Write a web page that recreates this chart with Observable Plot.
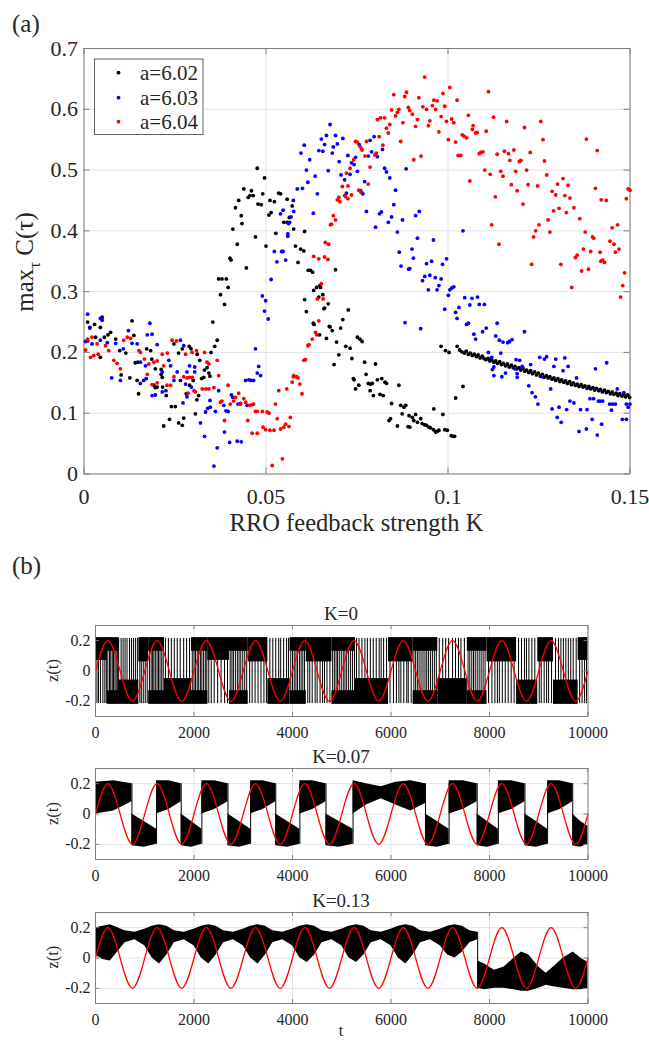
<!DOCTYPE html>
<html><head><meta charset="utf-8">
<script src="https://cdn.jsdelivr.net/npm/d3@7"></script>
<script src="https://cdn.jsdelivr.net/npm/@observablehq/plot@0.6"></script>
<style>
body{margin:0;background:#fff;}
#root{position:relative;width:649px;height:1042px;overflow:hidden;font-family:"Liberation Serif",serif;}
#root > svg{position:absolute;left:0;}
#root svg text{font-family:"Liberation Serif",serif !important;}
</style></head><body><div id="root"></div>
<script>
// ---------- Panel (a) data ----------
const kTicksA = [0, 0.05, 0.1, 0.15];
const cTicksA = [0, 0.1, 0.2, 0.3, 0.4, 0.5, 0.6, 0.7];
const seriesNames = ["a=6.02", "a=6.03", "a=6.04"];
const seriesColors = ["#000000", "#0000ff", "#ff0000"];

const a602 = [[0.001,0.25],[0.0016,0.241],[0.001,0.219],[0.0029,0.246],[0.0032,0.225],[0.0045,0.241],[0.0045,0.192],[0.005,0.258],[0.0056,0.225],[0.0066,0.229],[0.0073,0.233],[0.0087,0.222],[0.0098,0.203],[0.0102,0.163],[0.0115,0.199],[0.0126,0.158],[0.0132,0.252],[0.0137,0.228],[0.0141,0.183],[0.0146,0.154],[0.0148,0.184],[0.015,0.132],[0.0172,0.206],[0.0183,0.203],[0.0186,0.189],[0.0192,0.146],[0.0196,0.173],[0.0196,0.142],[0.0201,0.143],[0.0212,0.172],[0.0212,0.164],[0.0215,0.159],[0.0216,0.143],[0.0219,0.079],[0.0226,0.129],[0.0235,0.09],[0.024,0.111],[0.0247,0.214],[0.0251,0.111],[0.026,0.199],[0.026,0.084],[0.0265,0.154],[0.027,0.206],[0.027,0.08],[0.0274,0.092],[0.0281,0.132],[0.0289,0.21],[0.029,0.146],[0.0294,0.206],[0.03,0.154],[0.0306,0.099],[0.031,0.122],[0.0311,0.197],[0.0315,0.129],[0.0318,0.187],[0.0323,0.157],[0.0329,0.159],[0.0331,0.171],[0.0338,0.175],[0.0343,0.166],[0.0346,0.161],[0.0349,0.2],
[0.0354,0.25],[0.0359,0.21],[0.0366,0.22],[0.037,0.321],[0.0375,0.295],[0.0379,0.321],[0.0386,0.279],[0.0391,0.321],[0.0396,0.307],[0.0401,0.355],[0.0404,0.352],[0.0409,0.403],[0.0416,0.438],[0.0421,0.378],[0.0425,0.45],[0.0432,0.425],[0.0434,0.412],[0.0439,0.469],[0.0446,0.339],[0.0451,0.455],[0.0456,0.458],[0.046,0.466],[0.0465,0.458],[0.0471,0.39],[0.0476,0.503],[0.0478,0.444],[0.0487,0.443],[0.0491,0.461],[0.0496,0.487],[0.05,0.375],[0.0508,0.426],[0.0511,0.45],[0.0514,0.43],[0.0523,0.448],[0.0527,0.396],[0.0535,0.462],[0.054,0.461],[0.0549,0.414],[0.0558,0.452],[0.0558,0.414],[0.0564,0.422],[0.0572,0.441],[0.0576,0.403],[0.0581,0.375],[0.0588,0.348],[0.0595,0.37],[0.0604,0.367],[0.0606,0.399],[0.0606,0.287],[0.0611,0.267],[0.0616,0.335],[0.0622,0.335],[0.0628,0.332],[0.063,0.248],[0.0631,0.302],[0.0632,0.246],[0.0639,0.307],[0.0645,0.291],[0.0647,0.229],[0.0648,0.31],[0.065,0.307],[0.0656,0.295],[0.0659,0.272],[0.0661,0.273],[0.0666,0.223],[0.0671,0.28],[0.0674,0.243],[0.0676,0.242],[0.0682,0.236],[0.0687,0.18],[0.0691,0.336],[0.0694,0.217],[0.07,0.196],[0.0705,0.24],[0.0711,0.254],[0.0719,0.21],[0.0726,0.27],[0.0731,0.207],[0.0736,0.19],[0.074,0.157],[0.0742,0.155],[0.0746,0.14],[0.0751,0.225],[0.0755,0.146],[0.0758,0.222],[0.0764,0.218],[0.0771,0.184],[0.0775,0.164],[0.0781,0.149],[0.0786,0.137],[0.0787,0.148],[0.0792,0.149],[0.0795,0.129],[0.0801,0.181],[0.0806,0.155],[0.0813,0.131],[0.0818,0.157],[0.0822,0.129],[0.0827,0.151],[0.0831,0.149],[0.0838,0.088],[0.0842,0.091],[0.0845,0.116],[0.0861,0.079],[0.0865,0.146],[0.087,0.113],[0.0874,0.099],[0.0879,0.11],[0.0884,0.113],[0.089,0.078],[0.0893,0.096],[0.0895,0.077],[0.0902,0.093],[0.0906,0.088],[0.0911,0.098],[0.0916,0.085],[0.0925,0.091],[0.0929,0.083],[0.0936,0.081],[0.0941,0.08],[0.0948,0.077],[0.0952,0.076],[0.096,0.073],[0.0961,0.107],[0.0966,0.069],[0.097,0.07],[0.0975,0.072],[0.0981,0.21],[0.0986,0.098],[0.0991,0.073],[0.0993,0.203],[0.0998,0.072],[0.1003,0.2],[0.1009,0.063],[0.1014,0.062],[0.1018,0.062],[0.1021,0.125],[0.1025,0.21],[0.1041,0.144],
[0.1032,0.204],[0.1038,0.201],[0.1045,0.199],[0.105,0.202],[0.1056,0.197],[0.1061,0.199],[0.1067,0.195],[0.1072,0.197],[0.1078,0.193],[0.1083,0.196],[0.1088,0.191],[0.1094,0.194],[0.1099,0.19],[0.1104,0.188],[0.111,0.19],[0.1115,0.186],[0.112,0.188],[0.1126,0.184],[0.1131,0.186],[0.1136,0.182],[0.1142,0.185],[0.1147,0.18],[0.1152,0.182],[0.1158,0.178],[0.1163,0.181],[0.1168,0.176],[0.1174,0.179],[0.1179,0.175],[0.1184,0.177],[0.119,0.173],[0.1195,0.175],[0.12,0.171],[0.1206,0.174],[0.1211,0.169],[0.1216,0.171],[0.1222,0.167],[0.1227,0.17],[0.1232,0.165],[0.1238,0.168],[0.1243,0.163],[0.1248,0.166],[0.1254,0.161],[0.1259,0.164],[0.1264,0.159],[0.127,0.162],[0.1275,0.158],[0.128,0.16],[0.1286,0.156],[0.1291,0.158],[0.1296,0.154],[0.1302,0.157],[0.1307,0.152],[0.1312,0.155],[0.1318,0.151],[0.1323,0.153],[0.1328,0.149],[0.1334,0.152],[0.1339,0.147],[0.1344,0.15],[0.135,0.146],[0.1355,0.148],[0.136,0.144],[0.1366,0.147],[0.1371,0.143],[0.1376,0.145],[0.1382,0.141],[0.1387,0.144],[0.1392,0.14],[0.1398,0.142],[0.1403,0.138],[0.1408,0.141],[0.1414,0.137],[0.1419,0.139],[0.1424,0.135],[0.143,0.138],[0.1435,0.134],[0.144,0.136],[0.1446,0.132],[0.1451,0.135],[0.1456,0.131],[0.1462,0.133],[0.1467,0.129],[0.1472,0.132],[0.1478,0.128],[0.1483,0.131],[0.1488,0.127],[0.1494,0.13],[0.1499,0.126]];

const a603 = [[0.0004,0.218],[0.001,0.263],[0.0016,0.24],[0.0022,0.214],[0.0045,0.256],[0.0045,0.22],[0.005,0.253],[0.0064,0.216],[0.0076,0.158],[0.0087,0.215],[0.01,0.154],[0.0108,0.206],[0.0122,0.236],[0.0132,0.215],[0.0146,0.214],[0.0155,0.184],[0.0155,0.149],[0.0164,0.154],[0.0169,0.178],[0.0171,0.157],[0.0174,0.229],[0.0181,0.248],[0.0187,0.23],[0.0187,0.129],[0.0196,0.13],[0.0201,0.213],[0.0215,0.135],[0.0215,0.168],[0.0225,0.137],[0.0233,0.187],[0.0238,0.178],[0.0247,0.154],[0.0256,0.168],[0.0265,0.22],[0.0272,0.117],[0.0274,0.211],[0.0279,0.148],[0.0283,0.127],[0.0283,0.168],[0.029,0.178],[0.0295,0.143],[0.0304,0.168],[0.0304,0.176],[0.032,0.084],[0.0331,0.062],[0.0334,0.102],[0.034,0.108],[0.0346,0.121],[0.0347,0.11],[0.0357,0.013],[0.0361,0.103],[0.0366,0.043],[0.037,0.137],[0.0384,0.113],[0.0386,0.069],[0.039,0.104],[0.0396,0.103],[0.04,0.052],[0.0405,0.13],[0.0409,0.126],[0.0421,0.054],[0.0423,0.115],[0.043,0.116],[0.0432,0.053],[0.0444,0.154],[0.0448,0.113],[0.0453,0.155],[0.0459,0.154],[0.0466,0.154],[0.0471,0.206],[0.0476,0.166],[0.048,0.177],[0.0485,0.162],
[0.049,0.293],[0.0496,0.268],[0.0499,0.285],[0.0506,0.255],[0.0514,0.32],[0.0523,0.366],[0.053,0.349],[0.054,0.428],[0.0543,0.366],[0.0547,0.366],[0.0547,0.434],[0.0554,0.352],[0.056,0.395],[0.056,0.391],[0.0562,0.412],[0.0565,0.414],[0.0569,0.423],[0.0575,0.45],[0.0576,0.432],[0.0586,0.469],[0.0596,0.528],[0.06,0.47],[0.0605,0.541],[0.0611,0.5],[0.0615,0.48],[0.062,0.517],[0.063,0.429],[0.0635,0.49],[0.0641,0.461],[0.0645,0.532],[0.0652,0.551],[0.0656,0.531],[0.0661,0.542],[0.0666,0.557],[0.0671,0.499],[0.0676,0.575],[0.0682,0.528],[0.0685,0.538],[0.0691,0.557],[0.0696,0.543],[0.0701,0.514],[0.0706,0.492],[0.0711,0.552],[0.0716,0.484],[0.0721,0.462],[0.0725,0.524],[0.0731,0.493],[0.0735,0.512],[0.0742,0.509],[0.0746,0.521],[0.0751,0.498],[0.0756,0.542],[0.076,0.466],[0.0763,0.463],[0.0766,0.461],[0.0771,0.481],[0.0776,0.432],[0.0781,0.523],[0.0786,0.549],[0.079,0.53],[0.0797,0.555],[0.0801,0.406],[0.0806,0.522],[0.0812,0.428],[0.0817,0.431],[0.082,0.534],[0.0826,0.503],[0.0831,0.497],[0.0836,0.414],[0.084,0.487],[0.0845,0.423],[0.0851,0.443],[0.0856,0.467],[0.0861,0.398],[0.0866,0.365],[0.0871,0.342],[0.0875,0.418],[0.0882,0.249],[0.0885,0.502],[0.0892,0.337],[0.0895,0.338],[0.0901,0.37],[0.0905,0.355],[0.0911,0.425],[0.0916,0.388],[0.0921,0.432],[0.0925,0.239],[0.093,0.318],[0.0936,0.325],[0.0941,0.346],[0.0946,0.303],[0.095,0.327],[0.0955,0.35],[0.096,0.385],[0.0965,0.323],[0.097,0.303],[0.0975,0.31],[0.0981,0.321],[0.0985,0.345],[0.0991,0.271],[0.0996,0.354],[0.1001,0.294],[0.1005,0.303],[0.101,0.306],[0.1016,0.308],[0.1021,0.266],[0.1025,0.256],[0.103,0.274],[0.1041,0.4],[0.1046,0.29],[0.1051,0.246],[0.1056,0.248],[0.106,0.278],[0.1066,0.289],[0.1071,0.23],[0.1076,0.222],[0.1081,0.291],[0.1086,0.279],[0.1095,0.234],[0.11,0.279],[0.1105,0.24],[0.1111,0.2],[0.112,0.192],[0.1122,0.172],[0.1126,0.176],[0.1126,0.162],[0.1131,0.227],[0.1135,0.248],[0.1141,0.22],[0.1145,0.199],[0.1148,0.16],[0.1151,0.217],[0.1158,0.166],[0.1164,0.216],[0.1169,0.218],[0.1176,0.221],[0.1184,0.173],[0.1187,0.188],[0.119,0.159],[0.119,0.165],[0.1197,0.187],[0.1204,0.177],[0.121,0.234],[0.1222,0.145],[0.1227,0.18],[0.1231,0.134],[0.124,0.127],[0.1247,0.115],[0.1252,0.192],[0.1259,0.16],[0.1265,0.189],[0.1271,0.193],[0.1282,0.14],[0.1286,0.107],[0.1291,0.177],[0.1296,0.189],[0.13,0.093],[0.1305,0.11],[0.1311,0.085],[0.1316,0.17],[0.1321,0.191],[0.1326,0.106],[0.133,0.177],[0.1335,0.12],[0.1346,0.117],[0.1353,0.158],[0.136,0.07],[0.1364,0.106],[0.138,0.074],[0.1382,0.106],[0.139,0.124],[0.1396,0.09],[0.14,0.124],[0.1405,0.173],[0.141,0.064],[0.1413,0.12],[0.1418,0.12],[0.1422,0.082],[0.1425,0.12],[0.1436,0.183],[0.1444,0.115],[0.1449,0.105],[0.1452,0.115],[0.146,0.115],[0.1465,0.14],[0.1479,0.09],[0.1483,0.134],[0.149,0.115],[0.149,0.09],[0.1495,0.11],[0.15,0.115]];

const a604 = [[0.0004,0.204],[0.001,0.222],[0.0018,0.192],[0.0022,0.225],[0.0027,0.195],[0.0036,0.214],[0.0039,0.197],[0.0059,0.211],[0.0068,0.203],[0.0082,0.187],[0.0091,0.182],[0.01,0.173],[0.0109,0.22],[0.0119,0.225],[0.0128,0.223],[0.0151,0.203],[0.0155,0.2],[0.0166,0.189],[0.0174,0.164],[0.0178,0.181],[0.0187,0.147],[0.0192,0.184],[0.0201,0.186],[0.0201,0.15],[0.0215,0.197],[0.0219,0.178],[0.0228,0.146],[0.0229,0.199],[0.0238,0.146],[0.0242,0.22],[0.0247,0.16],[0.0254,0.219],[0.0274,0.16],[0.0279,0.197],[0.0283,0.158],[0.0286,0.133],[0.029,0.159],[0.0297,0.2],[0.0297,0.159],[0.0302,0.137],[0.0306,0.135],[0.0309,0.203],[0.0325,0.14],[0.0331,0.2],[0.0335,0.14],[0.0338,0.184],[0.0343,0.181],[0.0343,0.14],[0.0357,0.142],[0.0366,0.187],[0.037,0.162],[0.0375,0.118],[0.0379,0.12],[0.0386,0.088],[0.0396,0.146],[0.0402,0.115],[0.0411,0.12],[0.0416,0.126],[0.0425,0.133],[0.043,0.115],[0.0439,0.124],[0.0444,0.118],[0.045,0.088],[0.0455,0.113],[0.0462,0.114],[0.0462,0.067],[0.0466,0.115],[0.0471,0.103],[0.0476,0.103],[0.0476,0.067],[0.049,0.103],[0.0492,0.077],[0.0499,0.073],[0.0503,0.102],[0.0508,0.1],[0.0511,0.072],[0.0517,0.014],[0.0522,0.072],[0.0526,0.115],[0.0531,0.091],[0.0535,0.137],[0.054,0.074],[0.0545,0.025],[0.0549,0.077],[0.0554,0.082],[0.0557,0.14],[0.0563,0.078],[0.0567,0.093],[0.0572,0.151],[0.0575,0.16],[0.0576,0.162],[0.0584,0.16],[0.0588,0.158],[0.0593,0.148],[0.0599,0.132],[0.0604,0.187],[0.0608,0.188],[0.0615,0.211],[0.0618,0.213],[0.0627,0.222],[0.0631,0.358],[0.0636,0.233],[0.0639,0.229],[0.0641,0.288],[0.0645,0.252],[0.0645,0.354],[0.0652,0.313],[0.0657,0.288],[0.0661,0.357],[0.0663,0.381],[0.067,0.353],[0.0672,0.378],[0.0677,0.41],[0.068,0.411],[0.0685,0.425],[0.0691,0.418],[0.0696,0.451],[0.07,0.455],[0.0703,0.448],[0.071,0.473],[0.0716,0.458],[0.0719,0.456],[0.0721,0.495],[0.0725,0.453],[0.0725,0.474],[0.0731,0.503],[0.0735,0.459],[0.0741,0.517],[0.0746,0.547],[0.0751,0.546],[0.0755,0.467],[0.0758,0.539],[0.076,0.464],[0.0762,0.535],[0.0764,0.533],[0.0772,0.523],[0.0776,0.547],[0.0781,0.477],[0.0786,0.505],[0.0799,0.525],[0.0803,0.528],[0.0806,0.583],[0.0811,0.555],[0.0815,0.586],[0.0821,0.541],[0.0826,0.586],[0.0831,0.569],[0.0836,0.561],[0.084,0.575],[0.0845,0.599],[0.0851,0.624],[0.0856,0.589],[0.0861,0.595],[0.0865,0.6],[0.087,0.547],[0.0876,0.578],[0.0881,0.621],[0.0886,0.628],[0.0891,0.603],[0.0895,0.598],[0.0902,0.592],[0.0906,0.517],[0.0911,0.572],[0.0916,0.583],[0.092,0.619],[0.0926,0.523],[0.0931,0.604],[0.0936,0.653],[0.0941,0.6],[0.0946,0.573],[0.095,0.581],[0.0957,0.606],[0.0961,0.615],[0.0966,0.6],[0.097,0.614],[0.0975,0.563],[0.0981,0.588],[0.0986,0.626],[0.0991,0.605],[0.0996,0.58],[0.1001,0.55],[0.1005,0.636],[0.101,0.584],[0.1016,0.578],[0.1021,0.546],[0.1025,0.615],[0.1028,0.524],[0.1035,0.524],[0.1039,0.558],[0.1044,0.556],[0.1051,0.553],[0.1056,0.59],[0.106,0.482],[0.1067,0.567],[0.1069,0.573],[0.1076,0.561],[0.108,0.562],[0.1086,0.527],[0.109,0.529],[0.1096,0.53],[0.1101,0.5],[0.1105,0.564],[0.1111,0.629],[0.1116,0.493],[0.112,0.41],[0.1125,0.587],[0.113,0.456],[0.1135,0.526],[0.114,0.378],[0.1145,0.498],[0.1151,0.49],[0.1155,0.531],[0.1161,0.58],[0.1166,0.527],[0.117,0.516],[0.1174,0.476],[0.1181,0.533],[0.1186,0.498],[0.119,0.466],[0.1196,0.514],[0.12,0.516],[0.1206,0.444],[0.121,0.57],[0.1216,0.5],[0.122,0.476],[0.1226,0.529],[0.123,0.345],[0.1235,0.39],[0.1241,0.4],[0.1246,0.474],[0.125,0.41],[0.1255,0.58],[0.1261,0.55],[0.1265,0.515],[0.1271,0.492],[0.1275,0.418],[0.128,0.398],[0.1286,0.465],[0.129,0.433],[0.1296,0.459],[0.1301,0.477],[0.1305,0.437],[0.131,0.345],[0.1316,0.486],[0.1321,0.458],[0.1325,0.43],[0.133,0.475],[0.1335,0.454],[0.134,0.307],[0.1346,0.438],[0.135,0.356],[0.1355,0.36],[0.1362,0.42],[0.1367,0.334],[0.1372,0.37],[0.1377,0.398],[0.138,0.551],[0.1386,0.337],[0.1392,0.366],[0.1397,0.39],[0.14,0.388],[0.1405,0.47],[0.141,0.532],[0.1418,0.365],[0.142,0.35],[0.1421,0.451],[0.1425,0.352],[0.143,0.348],[0.1435,0.45],[0.1445,0.383],[0.1451,0.405],[0.1456,0.378],[0.146,0.365],[0.1466,0.41],[0.147,0.37],[0.1474,0.291],[0.148,0.31],[0.1485,0.331],[0.149,0.453],[0.1495,0.469],[0.15,0.467]];

// ---------- Panel (b) data ----------
const tTicks = [0, 2000, 4000, 6000, 8000, 10000];
const zTicks = [-0.2, 0, 0.2];
const panelTitles = ["K=0", "K=0.07", "K=0.13"];
// red drive, read at its zero crossings and extremes
const redT = [0,250,500,750,1000,1250,1500,1750,2000,2250,2500,2750,3000,3250,3500,3750,4000,4250,4500,4750,5000,5250,5500,5750,6000,6250,6500,6750,7000,7250,7500,7750,8000,8250,8500,8750,9000,9250,9500,9750,10000];
const redZ = [0,0.2,0,-0.2,0,0.2,0,-0.2,0,0.2,0,-0.2,0,0.2,0,-0.2,0,0.2,0,-0.2,0,0.2,0,-0.2,0,0.2,0,-0.2,0,0.2,0,-0.2,0,0.2,0,-0.2,0,0.2,0,-0.2,0];

// K=0: dwell bands of z(t) [t0, t1, lo, hi] and fast switching excursions [t]
const k0Bands = [
[0,240,0.07,0.22],[880,1080,0.06,0.22],[2280,2720,0.07,0.22],[3100,3500,0.06,0.22],[4280,4800,0.06,0.22],[5950,6450,0.06,0.22],[7950,8550,0.06,0.22],[8980,9300,0.06,0.22],[9800,10000,0.07,0.22],
[480,880,-0.22,-0.06],[1400,1950,-0.22,-0.05],[3500,3950,-0.22,-0.05],[5280,5950,-0.22,-0.05],[6950,7550,-0.22,-0.05],[8550,8980,-0.22,-0.06],[9300,9800,-0.22,-0.06],
[240,480,0.13,0.22],[1080,1400,0.13,0.22],[1950,2280,0.13,0.22],[2720,3100,0.13,0.22],[3950,4280,0.13,0.22],[4800,5280,0.13,0.22],[6450,6950,0.13,0.22],[7550,7950,0.13,0.22],
[240,480,-0.22,-0.13],[1080,1400,-0.22,-0.13],[1950,2280,-0.22,-0.13],[2720,3100,-0.22,-0.13],[3950,4280,-0.22,-0.13],[4800,5280,-0.22,-0.13],[6450,6950,-0.22,-0.13],[7550,7950,-0.22,-0.13]];
const k0Spikes = [250,285,310,340,365,395,420,450,470,
1095,1130,1160,1185,1215,1250,1280,1310,1345,1375,
1965,2000,2030,2065,2095,2130,2160,2195,2230,2260,
2735,2770,2800,2840,2880,2915,2950,2990,3030,3070,
3965,4000,4035,4070,4100,4140,4175,4210,4245,
4815,4850,4885,4915,4950,4990,5030,5065,5100,5140,5180,5220,5260,
6465,6500,6535,6570,6610,6650,6690,6725,6760,6800,6840,6880,6920,
7565,7600,7640,7675,7710,7750,7790,7830,7870,7910,
30,60,100,150,190,220,
520,560,600,640,690,730,770,810,850,
900,930,970,1010,1050,
1420,1480,1540,1600,1660,1720,1790,1850,1910,
2300,2350,2410,2480,2550,2620,2680,
3130,3180,3240,3300,3360,3420,3470,
3540,3600,3660,3720,3760,3820,3880,3920,
4310,4350,4400,4460,4500,4560,4610,4650,4700,4760,
5300,5350,5410,5470,5520,5580,5640,5700,5760,5800,5850,5910,
5980,6050,6110,6160,6200,6260,6320,6350,6410,
6980,7050,7110,7170,7250,7310,7370,7420,7490,
7980,8050,8110,8160,8200,8260,8320,8380,8440,8500,
8590,8650,8710,8750,8800,8860,8920,
9010,9050,9110,9160,9200,9260,
9340,9400,9450,9500,9550,9600,9650,9700,9760,
9830,9880,9930,9970];

// K=0.07: envelope of z(t) per dwell [dwell, t, lo, hi]
const k07Env = [
[1,0,0.0,0.21],[1,370,0.02,0.22],[1,740,0.08,0.2],
[2,740,-0.21,0.0],[2,990,-0.22,-0.05],[2,1240,-0.2,-0.1],
[3,1240,0.0,0.22],[3,1490,0.03,0.22],[3,1740,0.08,0.2],
[4,1740,-0.21,0.0],[4,1950,-0.22,-0.05],[4,2160,-0.2,-0.1],
[5,2160,0.0,0.22],[5,2420,0.03,0.22],[5,2690,0.08,0.2],
[6,2690,-0.21,0.0],[6,2920,-0.22,-0.05],[6,3150,-0.2,-0.1],
[7,3150,0.0,0.22],[7,3400,0.03,0.22],[7,3660,0.08,0.2],
[8,3660,-0.21,0.0],[8,3900,-0.22,-0.05],[8,4150,-0.2,-0.1],
[9,4150,0.0,0.22],[9,4410,0.03,0.22],[9,4680,0.08,0.2],
[10,4680,-0.21,0.0],[10,4950,-0.22,-0.05],[10,5230,-0.2,-0.1],
[11,5230,0.0,0.22],[11,5500,0.06,0.2],[11,5800,0.1,0.18],[11,6100,0.06,0.21],[11,6400,0.02,0.22],[11,6700,0.07,0.2],
[12,6700,-0.21,0.0],[12,6940,-0.22,-0.05],[12,7180,-0.2,-0.1],
[13,7180,0.0,0.22],[13,7460,0.03,0.22],[13,7750,0.08,0.2],
[14,7750,-0.21,0.0],[14,7960,-0.22,-0.05],[14,8180,-0.2,-0.1],
[15,8180,0.0,0.22],[15,8450,0.03,0.22],[15,8720,0.08,0.2],
[16,8720,-0.21,0.0],[16,8950,-0.22,-0.05],[16,9180,-0.2,-0.1],
[17,9180,0.0,0.22],[17,9430,0.03,0.22],[17,9690,0.08,0.2],
[18,9690,-0.21,0.0],[18,9850,-0.22,-0.05],[18,10000,-0.2,-0.08]];
const k07Switch = [740,1240,1740,2160,2690,3150,3660,4150,4680,5230,6700,7180,7750,8180,8720,9180,9690];

// K=0.13: envelope [dwell, t, lo, hi]
const k13Env = [
[1,0,0.02,0.2],[1,150,-0.01,0.21],[1,300,-0.02,0.22],[1,450,0.04,0.2],[1,600,0.1,0.18],[1,800,0.12,0.17],[1,1000,0.08,0.19],
[1,1150,0.0,0.21],[1,1300,-0.04,0.22],[1,1450,0.02,0.21],[1,1600,0.1,0.18],[1,1800,0.12,0.17],[1,2000,0.08,0.19],
[1,2150,0.0,0.21],[1,2300,-0.04,0.22],[1,2450,0.02,0.21],[1,2600,0.1,0.18],[1,2800,0.12,0.17],[1,3000,0.08,0.19],
[1,3150,0.0,0.21],[1,3300,-0.04,0.22],[1,3450,0.02,0.21],[1,3600,0.1,0.18],[1,3800,0.12,0.17],[1,4000,0.08,0.19],
[1,4150,0.0,0.21],[1,4300,-0.03,0.22],[1,4450,0.02,0.21],[1,4600,0.1,0.18],[1,4800,0.12,0.17],[1,5000,0.08,0.19],
[1,5150,0.0,0.21],[1,5300,-0.03,0.22],[1,5450,0.02,0.21],[1,5600,0.1,0.18],[1,5800,0.12,0.17],[1,6000,0.08,0.19],
[1,6150,0.0,0.21],[1,6300,-0.04,0.22],[1,6450,0.02,0.21],[1,6600,0.1,0.18],[1,6800,0.12,0.17],[1,7000,0.08,0.19],
[1,7150,0.02,0.21],[1,7300,0.0,0.22],[1,7450,0.04,0.21],[1,7600,0.1,0.18],[1,7760,0.12,0.17],
[2,7760,-0.2,-0.02],[2,7900,-0.21,-0.04],[2,8100,-0.2,-0.08],[2,8300,-0.2,-0.06],[2,8500,-0.21,0.0],[2,8650,-0.22,0.04],[2,8800,-0.22,0.02],[2,9000,-0.2,-0.06],[2,9150,-0.18,-0.1],[2,9300,-0.19,-0.06],[2,9500,-0.2,0.0],[2,9700,-0.21,0.04],[2,9850,-0.21,0.0],[2,10000,-0.2,-0.03]];
const k13Switch = [7760];

// ---------- drawing ----------
const root = document.getElementById("root");
const FONT = "Liberation Serif";
const AXIS = "#262626", FRAME = "#808080", GRID = "#e3e3e3";

// Panel (a)
{
  const W = 649, H = 540, mt = 48, mb = 66.5, ml = 83.5, mr = 19.5;
  const ytl = 6 * 0.7 / (H - mt - mb), xtl = 6 * 0.15 / (W - ml - mr);
  const pts = [a602, a603, a604].flatMap((arr, i) => arr.map(([k, c]) => ({k, c, s: i})));
  const p = Plot.plot({
    width: W, height: H, marginTop: mt, marginBottom: mb, marginLeft: ml, marginRight: mr,
    x: {domain: [0, 0.15]}, y: {domain: [0, 0.7]},
    style: {fontFamily: FONT, fontSize: "22px", color: AXIS, background: "transparent", overflow: "visible"},
    marks: [
      Plot.gridX(kTicksA, {stroke: GRID, strokeOpacity: 1}),
      Plot.gridY(cTicksA, {stroke: GRID, strokeOpacity: 1}),
      Plot.ruleX(kTicksA, {x: d => d, y1: 0, y2: ytl, stroke: FRAME}),
      Plot.ruleX(kTicksA, {x: d => d, y1: 0.7, y2: 0.7 - ytl, stroke: FRAME}),
      Plot.ruleY(cTicksA, {y: d => d, x1: 0, x2: xtl, stroke: FRAME}),
      Plot.ruleY(cTicksA, {y: d => d, x1: 0.15, x2: 0.15 - xtl, stroke: FRAME}),
      Plot.frame({stroke: FRAME}),
      Plot.axisX(kTicksA, {tickSize: 0, tickPadding: 14.5, label: null, tickFormat: d => String(d), fill: AXIS}),
      Plot.axisY(cTicksA, {tickSize: 0, tickPadding: 6, label: null, tickFormat: d => String(d), fill: AXIS}),
      Plot.dot(pts, {x: "k", y: "c", r: 1.9, fill: d => seriesColors[d.s], stroke: null})
    ]
  });
  p.style.top = "0px";
  root.appendChild(p);
}

// Panel (b) subplots
function subplot(top, marks) {
  const W = 649, H = 170, mt = 45, mb = 34, ml = 95, mr = 61.5;
  const ytl = 4 * 0.6 / (H - mt - mb), xtl = 4 * 10000 / (W - ml - mr);
  const p = Plot.plot({
    width: W, height: H, marginTop: mt, marginBottom: mb, marginLeft: ml, marginRight: mr,
    x: {domain: [0, 10000]}, y: {domain: [-0.3, 0.3]},
    style: {fontFamily: FONT, fontSize: "16px", color: AXIS, background: "transparent", overflow: "visible"},
    marks: [
      Plot.gridX(tTicks, {stroke: GRID, strokeOpacity: 1}),
      Plot.gridY(zTicks, {stroke: GRID, strokeOpacity: 1}),
      ...marks,
      Plot.line(redT.map((t, i) => ({t, z: redZ[i]})), {x: "t", y: "z", stroke: "#ff0000", strokeWidth: 1.2, curve: "natural"}),
      Plot.ruleX(tTicks, {x: d => d, y1: -0.3, y2: -0.3 + ytl, stroke: FRAME}),
      Plot.ruleX(tTicks, {x: d => d, y1: 0.3, y2: 0.3 - ytl, stroke: FRAME}),
      Plot.ruleY(zTicks, {y: d => d, x1: 0, x2: xtl, stroke: FRAME}),
      Plot.ruleY(zTicks, {y: d => d, x1: 10000, x2: 10000 - xtl, stroke: FRAME}),
      Plot.frame({stroke: FRAME}),
      Plot.axisX(tTicks, {tickSize: 0, tickPadding: 10, label: null, tickFormat: d => String(d), fill: AXIS}),
      Plot.axisY(zTicks, {tickSize: 0, tickPadding: 5, label: null, tickFormat: d => String(d), fill: AXIS})
    ]
  });
  p.style.top = top + "px";
  root.appendChild(p);
}
const envRows = env => env.map(([b, t, lo, hi]) => ({b, t, lo, hi}));

subplot(580, [
  Plot.rect(k0Bands.map(([t0, t1, lo, hi]) => ({t0, t1, lo, hi})), {x1: "t0", x2: "t1", y1: "lo", y2: "hi", fill: "#000"}),
  Plot.ruleX(k0Spikes, {x: d => d, y1: -0.215, y2: 0.215, stroke: "#000", strokeWidth: 1})
]);
subplot(723, [
  Plot.areaY(envRows(k07Env), {x: "t", y1: "lo", y2: "hi", z: "b", fill: "#000"}),
  Plot.ruleX(k07Switch, {x: d => d, y1: -0.2, y2: 0.2, stroke: "#000", strokeWidth: 1})
]);
subplot(866.7, [
  Plot.areaY(envRows(k13Env), {x: "t", y1: "lo", y2: "hi", z: "b", fill: "#000"}),
  Plot.ruleX(k13Switch, {x: d => d, y1: -0.2, y2: 0.17, stroke: "#000", strokeWidth: 1})
]);

// ---------- text overlay: panel letters, axis labels, titles, legend ----------
const ns = "http://www.w3.org/2000/svg";
const ov = document.createElementNS(ns, "svg");
ov.setAttribute("width", 649); ov.setAttribute("height", 1042);
ov.setAttribute("font-family", FONT);
ov.style.top = "0px";
function txt(x, y, s, size, anchor, rot) {
  const t = document.createElementNS(ns, "text");
  t.setAttribute("x", 0); t.setAttribute("y", 0);
  t.setAttribute("transform", `translate(${x},${y})` + (rot ? ` rotate(${rot})` : ""));
  t.setAttribute("font-size", size);
  t.setAttribute("font-family", FONT);
  t.setAttribute("fill", AXIS);
  t.setAttribute("text-anchor", anchor || "start");
  t.textContent = s;
  ov.appendChild(t);
  return t;
}
txt(12, 32, "(a)", 25);
txt(12, 574, "(b)", 25);
txt(356.5, 531, "RRO feedback strength K", 24.5, "middle");
// y label of (a): max_τ C(τ)
{
  const t = document.createElementNS(ns, "text");
  t.setAttribute("transform", "translate(33,262) rotate(-90)");
  t.setAttribute("font-size", 25); t.setAttribute("fill", AXIS); t.setAttribute("text-anchor", "middle");
  t.setAttribute("font-family", FONT);
  const a = document.createElementNS(ns, "tspan"); a.textContent = "max";
  const b = document.createElementNS(ns, "tspan"); b.textContent = "τ"; b.setAttribute("font-size", 17); b.setAttribute("dy", 7);
  const c = document.createElementNS(ns, "tspan"); c.textContent = " C(τ)"; c.setAttribute("dy", -7);
  t.append(a, b, c); ov.appendChild(t);
}
// legend
{
  const r = document.createElementNS(ns, "rect");
  r.setAttribute("x", 94.5); r.setAttribute("y", 59); r.setAttribute("width", 108.5); r.setAttribute("height", 75.5);
  r.setAttribute("fill", "#fff"); r.setAttribute("stroke", "#3c3c3c"); r.setAttribute("stroke-width", 0.8);
  ov.appendChild(r);
  const ys = [72.7, 97.7, 121.7];
  seriesNames.forEach((n, i) => {
    const c = document.createElementNS(ns, "circle");
    c.setAttribute("cx", 118.5); c.setAttribute("cy", ys[i]); c.setAttribute("r", 1.9); c.setAttribute("fill", seriesColors[i]);
    ov.appendChild(c);
    txt(140, ys[i] + 7.5, n, 21);
  });
}
// panel (b) titles and labels
const tops = [625, 768, 911.7];
tops.forEach((tp, i) => {
  txt(341, tp - 5, panelTitles[i], 19, "middle");
  txt(58, tp + 45.5, "z(t)", 16.5, "middle", -90);
});
txt(341, 1036, "t", 16, "middle");
root.appendChild(ov);
</script></body></html>
